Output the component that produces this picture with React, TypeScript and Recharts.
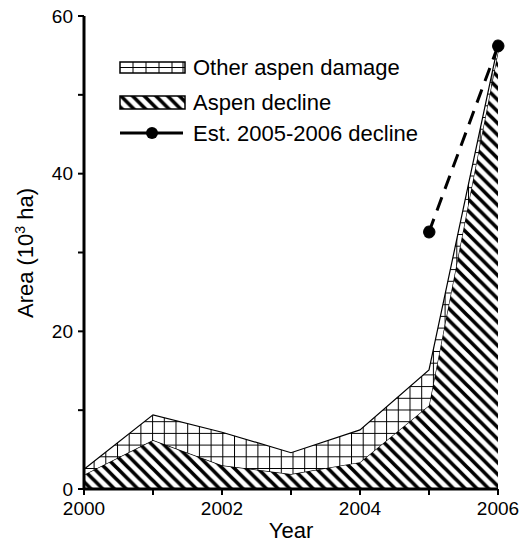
import { ComposedChart, Area, Line, XAxis, YAxis, Legend } from "recharts";

const years = [2000, 2001, 2002, 2003, 2004, 2005, 2006];
const aspenDecline = [1.8, 6.2, 3.0, 1.9, 3.4, 10.6, 55.5];
const otherDamage = [0.7, 3.2, 4.2, 2.7, 4.1, 4.5, 0.8];
const estDecline = [null, null, null, null, null, 32.6, 56.2];

const xTicks = [2000, 2001, 2002, 2003, 2004, 2005, 2006];
const yTicks = [0, 10, 20, 30, 40, 50, 60];

const data = years.map((year, i) => ({
  year,
  aspen: aspenDecline[i],
  other: otherDamage[i],
  est: estDecline[i],
}));

const FONT = "'Liberation Sans', Arial, sans-serif";

const Patterns = ({ suffix = "" }: { suffix?: string }) => (
  <defs>
    <pattern id={"cross" + suffix} width={11.7} height={11.7} patternUnits="userSpaceOnUse">
      <rect width={11.7} height={11.7} fill="#fff" />
      <path d="M0,0.5 H11.7 M0.5,0 V11.7" stroke="#000" strokeWidth={1} />
    </pattern>
    <pattern id={"diag" + suffix} width={11.7} height={11.7} patternUnits="userSpaceOnUse">
      <rect width={11.7} height={11.7} fill="#fff" />
      <path
        d="M0,0 L11.7,11.7 M-5.85,5.85 L5.85,17.55 M5.85,-5.85 L17.55,5.85"
        stroke="#000"
        strokeWidth={3.6}
      />
    </pattern>
  </defs>
);

const LegendBox = () => (
  <svg width={330} height={100} style={{ display: "block" }}>
    <Patterns suffix="L" />
    <g fontFamily={FONT} fontSize={22} fill="#000">
      <rect x={10} y={12} width={65} height={11} fill="#fff" stroke="#000" strokeWidth={1.5} />
      <line x1={10} x2={75} y1={17.5} y2={17.5} stroke="#000" strokeWidth={1} />
      {[23, 36, 49, 62, 73].map((x) => (
        <line key={x} x1={x} x2={x} y1={12} y2={23} stroke="#000" strokeWidth={1} />
      ))}
      <text x={83} y={25}>Other aspen damage</text>
      <rect x={10} y={46} width={65} height={13} fill="url(#diagL)" stroke="#000" strokeWidth={1.5} />
      <text x={83} y={60}>Aspen decline</text>
      <line x1={10} x2={73} y1={83} y2={83} stroke="#000" strokeWidth={3} />
      <circle cx={42} cy={83} r={6} fill="#000" />
      <text x={83} y={91}>Est. 2005-2006 decline</text>
    </g>
  </svg>
);

const YLabel = () => (
  <text
    x={33}
    y={253}
    transform="rotate(-90, 33, 253)"
    textAnchor="middle"
    fontFamily={FONT}
    fontSize={22}
    fill="#000"
  >
    Area (10
    <tspan dy={-8} fontSize={14}>3</tspan>
    <tspan dy={8}> ha)</tspan>
  </text>
);

const XLabel = () => (
  <text x={291} y={538} textAnchor="middle" fontFamily={FONT} fontSize={22} fill="#000">
    Year
  </text>
);

export default function App() {
  return (
    <div style={{ position: "absolute", left: 0, top: 0, width: 523, height: 545, background: "#fff" }}>
      <ComposedChart
        width={523}
        height={545}
        data={data}
        margin={{ top: 16, right: 25, bottom: 0, left: 0 }}
      >
        <Patterns />
        <XAxis
          dataKey="year"
          type="number"
          domain={[2000, 2006]}
          ticks={xTicks}
          interval={0}
          height={56}
          tickSize={6}
          tickMargin={7}
          tickFormatter={(v: number) => (v % 2 === 0 ? String(v) : "")}
          tick={{ fill: "#000", fontSize: 19, fontFamily: FONT }}
          axisLine={{ stroke: "#000", strokeWidth: 3 }}
          tickLine={{ stroke: "#000", strokeWidth: 2 }}
          label={<XLabel />}
        />
        <XAxis
          xAxisId="top"
          orientation="top"
          dataKey="year"
          type="number"
          domain={[2000, 2006]}
          height={0}
          tick={false}
          tickLine={false}
          axisLine={{ stroke: "#000", strokeWidth: 2 }}
        />
        <YAxis
          type="number"
          domain={[0, 60]}
          ticks={yTicks}
          interval={0}
          width={84}
          tickSize={6}
          tickMargin={5}
          tickFormatter={(v: number) => (v % 20 === 0 ? String(v) : "")}
          tick={{ fill: "#000", fontSize: 19, fontFamily: FONT }}
          axisLine={{ stroke: "#000", strokeWidth: 3 }}
          tickLine={{ stroke: "#000", strokeWidth: 2 }}
          label={<YLabel />}
        />
        <YAxis
          yAxisId="right"
          orientation="right"
          domain={[0, 60]}
          width={0}
          tick={false}
          tickLine={false}
          axisLine={{ stroke: "#000", strokeWidth: 3 }}
        />
        <Area
          type="linear"
          dataKey="aspen"
          stackId="a"
          stroke="#000"
          strokeWidth={1.2}
          fill="url(#diag)"
          fillOpacity={1}
          isAnimationActive={false}
        />
        <Area
          type="linear"
          dataKey="other"
          stackId="a"
          stroke="#000"
          strokeWidth={1.2}
          fill="url(#cross)"
          fillOpacity={1}
          isAnimationActive={false}
        />
        <Line
          type="linear"
          dataKey="est"
          stroke="#000"
          strokeWidth={3}
          strokeDasharray="14 9"
          dot={{ r: 6, fill: "#000", stroke: "#000", strokeWidth: 1 }}
          activeDot={false}
          isAnimationActive={false}
        />
        <Legend
          layout="horizontal"
          verticalAlign="middle"
          align="center"
          wrapperStyle={{ position: "absolute", left: 110, top: 50, width: 330, height: 100 }}
          content={() => <LegendBox />}
        />
      </ComposedChart>
    </div>
  );
}
